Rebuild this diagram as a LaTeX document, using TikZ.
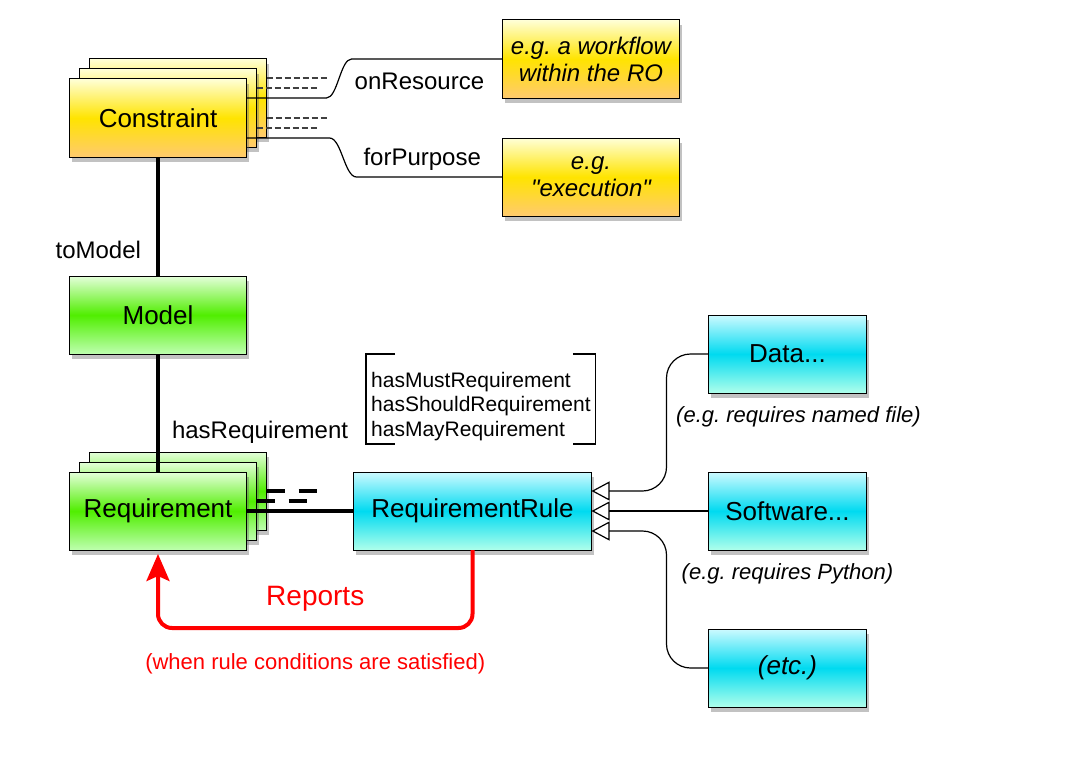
\documentclass[tikz,border=0pt]{standalone}
\usepackage{fontspec}
\setmainfont{Liberation Sans}
\usetikzlibrary{arrows.meta,positioning,shadows,backgrounds}
\definecolor{ytop}{RGB}{255,255,215}
\definecolor{ymid}{RGB}{255,228,0}
\definecolor{ybot}{RGB}{255,202,110}
\definecolor{gtop}{RGB}{228,255,218}
\definecolor{gmid}{RGB}{80,238,0}
\definecolor{gbot}{RGB}{190,255,175}
\definecolor{ctop}{RGB}{205,250,255}
\definecolor{cmid}{RGB}{0,218,240}
\definecolor{cbot}{RGB}{175,255,235}

\begin{document}
\begin{tikzpicture}[
  x=1pt,y=1pt,
  card/.style={draw,line width=1pt,minimum width=177pt,minimum height=78pt,inner sep=0pt,outer sep=0pt,align=center,font=\fontsize{26}{30}\selectfont,drop shadow={shadow xshift=2pt,shadow yshift=-5pt,fill=black!60,opacity=0.4}},
  ycard/.style={card,top color=ytop,bottom color=ybot,middle color=ymid},
  gcard/.style={card,top color=gtop,bottom color=gbot,middle color=gmid},
  ccard/.style={card,top color=ctop,bottom color=cbot,middle color=cmid,minimum width=158pt},
  eg/.style={ycard,font=\fontsize{24}{27}\selectfont\itshape},
  lbl/.style={inner sep=0pt,font=\fontsize{24}{28}\selectfont},
  note/.style={inner sep=0pt,font=\fontsize{22}{26}\selectfont\itshape},
  rel/.style={line width=1.2pt},
  stub/.style={line width=1.2pt,draw=black!75,dash pattern=on 6pt off 3pt},
  link/.style={line width=4pt},
  gen/.style={line width=1.2pt,-{Triangle[open,length=18pt,width=19pt]}},
  report/.style={color=red,line width=4pt,rounded corners=14pt,-{Stealth[length=27pt,width=23pt,inset=5pt]},shorten >=4pt}
]
\useasboundingbox (0,0) rectangle (1087,-776);

\node[ycard] (constraint) at (158,-118) {Constraint};
\node[gcard,below=119pt of constraint] (model) {Model};
\node[gcard,below=118pt of model] (req) {Requirement};
\node[ccard,right=107pt of req,minimum width=238pt] (rule) {RequirementRule};
\node[ccard,right=117pt of rule] (software) {Software...};
\node[ccard,above=79pt of software] (data) {Data...};
\node[ccard,below=79pt of software] (etc) {\textit{(etc.)}};
\node[eg,right=256pt of constraint,yshift=59pt] (workflow) {e.g.\ a workflow\\within the RO};
\node[eg,right=256pt of constraint,yshift=-59pt] (purpose) {e.g.\\\textquotedbl execution\textquotedbl};

\begin{scope}[on background layer]
\node[ycard] (constraint3) at ([shift={(20,20)}]constraint.center) {};
\node[ycard] (constraint2) at ([shift={(10,10)}]constraint.center) {};
\node[gcard] (req3) at ([shift={(20,20)}]req.center) {};
\node[gcard] (req2) at ([shift={(10,10)}]req.center) {};
\end{scope}

\draw[rel] ([yshift=20pt]constraint.east) -- ++(80,0) .. controls +(11,0) and +(-11,0) .. ++(25,39) -- node[lbl,pos=0.45,below=13pt]{onResource} (workflow.west);
\draw[rel] ([yshift=-20pt]constraint.east) -- ++(83,0) .. controls +(12,0) and +(-12,0) .. ++(27,-39) -- node[lbl,pos=0.45,above=6pt]{forPurpose} (purpose.west);
\draw[stub] ([yshift=20pt]constraint3.east) -- ++(60,0);
\draw[stub] ([yshift=-20pt]constraint3.east) -- ++(60,0);
\draw[stub] ([yshift=20pt]constraint2.east) -- ++(60,0);
\draw[stub] ([yshift=-20pt]constraint2.east) -- ++(60,0);

\draw[link] (constraint) -- node[lbl,pos=0.78,left=15pt]{toModel} (model);
\draw[link] (model) -- node[lbl,pos=0.66,right=12pt]{hasRequirement} (req);
\draw[link] (req) -- (rule);
\draw[link,dash pattern=on 18pt off 14pt] (req2.east) -- ++(50,0);
\draw[link,dash pattern=on 18pt off 14pt] (req3.east) -- ++(50,0);

\node[inner sep=0pt,align=left,font=\fontsize{21}{24.5}\selectfont,anchor=north west] (kinds) at (371,-372) {hasMustRequirement\\hasShouldRequirement\\hasMayRequirement};
\draw[rel] ([xshift=24pt,yshift=18pt]kinds.north west) -- ([xshift=-5pt,yshift=18pt]kinds.north west) -- ([xshift=-5pt,yshift=-3pt]kinds.south west) -- ([xshift=24pt,yshift=-3pt]kinds.south west);
\draw[rel] ([xshift=-18pt,yshift=18pt]kinds.north east) -- ([xshift=5pt,yshift=18pt]kinds.north east) -- ([xshift=5pt,yshift=-3pt]kinds.south east) -- ([xshift=-18pt,yshift=-3pt]kinds.south east);

\draw[gen] (software) -- (rule);
\draw[gen,rounded corners=24pt] (data.west) -| ([xshift=75pt,yshift=20pt]rule.east) -- ([yshift=20pt]rule.east);
\draw[gen,rounded corners=24pt] (etc.west) -| ([xshift=75pt,yshift=-20pt]rule.east) -- ([yshift=-20pt]rule.east);
\node[note,below=13pt of data,xshift=11pt] (datanote) {(e.g.\ requires named file)};
\node[note,below=13pt of software] (swnote) {(e.g.\ requires Python)};

\draw[report] (rule.south) -- ++(0,-78) -| node[pos=0.25,above=15pt,inner sep=0pt,font=\fontsize{28}{32}\selectfont]{Reports} node[pos=0.25,below=24pt,inner sep=0pt,font=\fontsize{22}{26}\selectfont]{(when rule conditions are satisfied)} (req.south);
\end{tikzpicture}
\end{document}
